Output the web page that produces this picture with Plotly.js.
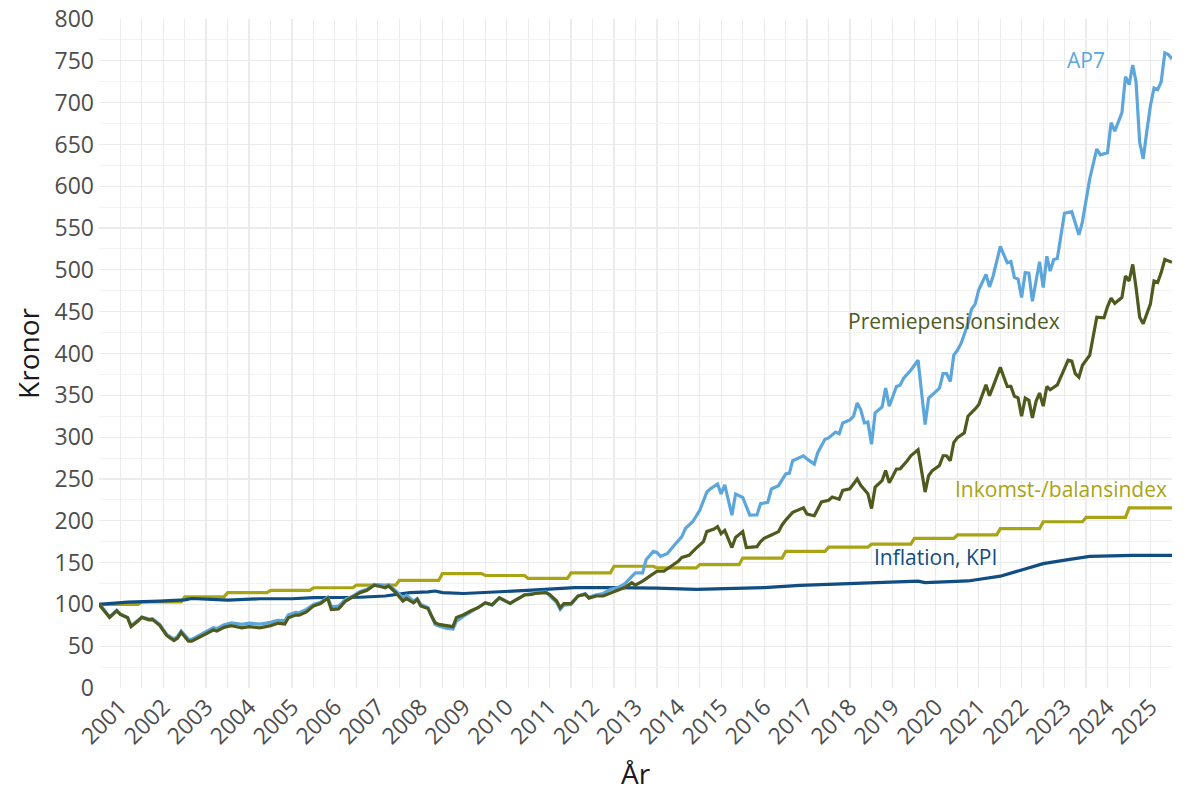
<!DOCTYPE html>
<html>
<head>
<meta charset="utf-8">
<script src="https://cdn.plot.ly/plotly-3.0.1.min.js"></script>
<style>
  html, body { margin: 0; padding: 0; background: #fff; }
  #chart { width: 1200px; height: 800px; }
</style>
</head>
<body>
<div id="chart"></div>
<script>
// months counted from January 2001 (0 = 2001-01)
const ap7Month = [0,1,3,5,6,8,9,11,12,14,15,17,18,19,21,22,23,24,25,26,28,30,32,33,35,37,39,40,42,45,48,50,52,53,55,56,58,60,62,64,65,67,69,71,73,75,77,79,80,81,83,85,86,88,89,90,92,93,94,95,97,99,100,102,104,106,108,110,112,114,115,116,119,121,122,125,126,128,129,130,132,134,136,137,139,141,143,145,147,149,150,152,153,155,156,157,159,161,163,164,166,168,170,171,173,174,175,176,177,178,180,182,184,185,187,188,190,192,193,194,195,197,198,200,201,203,204,206,207,208,210,211,212,213,214,215,216,217,219,220,221,223,224,225,227,229,231,232,233,235,236,237,238,239,240,241,243,244,245,246,248,249,250,252,254,255,256,257,258,259,260,261,262,263,264,265,266,267,268,269,270,272,273,274,275,276,277,279,280,282,283,284,286,287,288,289,290,291,292,293,294,295,296,297,298,299,300];
const ap7Value = [100,96,85,93,88.5,84.5,74.5,81.5,85,82.5,83,76,70,64,58.5,62,68,63,58.5,58,63,67.5,72,71,75.5,78,77,76,77.5,76.5,78.5,81,80.5,87.5,90.5,90,94,100,102.5,108.5,97,98,106,110,115.5,118,124,123,121.5,123.5,116,108,111,104,107,100,96,85,76,74,71.5,70.5,80,86,91,95.5,101.5,99,107.5,103,101,104,111.5,113,114,115,111,102,94,99,100,110,113,108.5,111.5,113,118,120,124.5,133.7,137.6,137.6,153.4,163.3,162,157.4,161,171.2,181,191,198.8,212.6,234.3,238.2,244,232,243,224.5,206.7,232,228,206.7,207,220.5,222,238,242,256,257,271.8,273.7,277.7,274,267.8,281.7,297.4,299,306,304,317,320.6,325,340.8,333,317,318,291.5,329,336,358.6,337,360.5,362,370.4,380,392,315,346.7,350.6,358.6,376,376,366.5,398,404,412,435.5,453,459,476,494.7,479.6,492.7,528,508.5,510,490.7,489,467,496.7,496,462.4,486.7,509.7,479,516.3,498.6,512.4,513.6,540,567.7,569.6,555.9,542,557.8,581.4,609,644.6,637.5,640,676,666,688,731,721.5,745,725,652.5,632.8,666,695.9,717.5,715.6,725,759.5,757.6,752];

const ppMonth = [0,1,3,5,6,8,9,11,12,14,15,17,18,19,21,22,23,24,25,26,28,30,32,33,35,37,39,40,42,45,48,50,52,53,55,56,58,60,62,64,65,67,69,71,73,75,77,79,80,81,83,85,86,88,89,90,92,93,94,95,97,99,100,102,104,106,108,110,112,114,115,116,119,121,122,125,126,128,129,130,132,134,136,137,139,141,143,145,147,149,150,152,154,156,158,160,162,163,165,167,169,170,172,173,174,175,177,178,180,181,184,185,186,188,190,191,192,194,196,197,198,200,202,204,205,207,208,210,212,213,215,216,217,219,220,221,223,224,226,227,229,231,232,233,235,236,237,238,239,240,242,243,245,246,248,249,250,252,254,255,256,257,258,259,260,261,262,263,264,265,266,268,270,271,272,273,274,275,277,278,279,281,282,283,284,286,287,288,289,290,291,292,294,295,296,297,298,300];
const ppValue = [100,95,84.4,92.3,88,84,73.4,80.5,84.4,81.5,81.8,75,68.6,62.7,56.8,59.7,66.6,61,56,56,60.6,64.7,69.4,68,72.5,74.6,73.4,72,73.4,72,74.6,77.4,76.6,84,87.2,87,91,98.2,101,107.3,93.8,94.6,104,108.5,114,116.8,123,121,119.9,122,114,104,107,101.8,105.8,98,95,86,78,76,74.6,73.4,84.4,87.6,92.3,96,102,99.6,108,103.5,101.2,104,111.2,112,113,114,112,104,96,101,101,110,112,107.5,110,110,113,116.8,120,125.8,123,127.8,133.7,139.6,139.6,145.6,151.5,156.2,158.6,167.2,175,187,190,193,184.5,188.5,168,180,187,168,169,175,179,183,187,195,200.8,210,214,215.4,208,206,222.5,224.5,228.4,225.7,236.3,238.2,250,242.3,232.3,214.6,240.2,248,260,245.3,261.9,262,271.8,277.7,284.8,234.3,254,260,266,277.7,277.7,271.8,293.5,299.4,305.3,325,333.7,338.8,362.5,349.5,360.6,383.4,360.6,360.6,348.7,347,325,346.7,344,323,342.8,352.7,337,360.6,356.6,362.5,382,392,391,376,371.6,386,398,421.7,443.4,442.6,456,466.3,460,467,492.7,486.7,506.5,479,443.4,435.5,459,486.7,485,496.7,512.4,509];

const kpiMonth = [0,8,17,24,26,36,45,54,60,68,73,80,82,87,92,94,96,102,121,133,144,156,167,186,196,217,229,231,243,252,257,264,271,277,289,300];
const kpiValue = [100,102.7,104,105.3,107,105,106.7,106.7,108,108,108.5,110,111,114,115,116,114,113,117,120,120,119.5,118,120,122.7,125.8,127.8,126,128,133.7,139.6,148.7,153.5,157.4,158.6,158.6];

// income/balance index, one level per calendar year
const inkYears = [2001,2002,2003,2004,2005,2006,2007,2008,2009,2010,2011,2012,2013,2014,2015,2016,2017,2018,2019,2020,2021,2022,2023,2024,2025];
const inkValue = [100,103,109,114,116.8,119.9,123,128.6,136.7,134.5,131,137.7,145.6,143.6,147.5,155.4,163.3,168.4,172,179,183,190.5,198.8,204,215.4];

const yearLabels = ['2001','2002','2003','2004','2005','2006','2007','2008','2009','2010','2011','2012','2013','2014','2015','2016','2017','2018','2019','2020','2021','2022','2023','2024','2025'];

const colors = {
  ap7: '#5DA6DC',
  pp: '#4E5A1E',
  ink: '#A9A414',
  kpi: '#0F4D82'
};
const FONT = 'Open Sans, Noto Sans, sans-serif';

/**
 * Month offset to a date string
 * @param  {number} i months since January 2001
 * @return {string}   YYYY-MM-01
 */
function monthToDate(i){
  const y = 2001 + Math.floor(i / 12);
  const m = (i % 12) + 1;
  return y + '-' + String(m).padStart(2, '0') + '-01';
}

function lineTrace(months, values, color){
  return {
    x: months.map(monthToDate),
    y: values,
    type: 'scatter',
    mode: 'lines',
    line: {color: color, width: 3.2},
    hoverinfo: 'skip'
  };
}

// step line for the yearly index
const inkX = [];
const inkY = [];
inkYears.forEach(function(yr, k){
  const first = (yr - 2001) * 12;
  const last = k === inkYears.length - 1 ? kpiMonth[kpiMonth.length - 1] : first + 11;
  inkX.push(monthToDate(first), monthToDate(last));
  inkY.push(inkValue[k], inkValue[k]);
});

const data = [
  {x: inkX, y: inkY, type: 'scatter', mode: 'lines', line: {color: colors.ink, width: 3.2}, hoverinfo: 'skip'},
  lineTrace(kpiMonth, kpiValue, colors.kpi),
  lineTrace(ap7Month, ap7Value, colors.ap7),
  lineTrace(ppMonth, ppValue, colors.pp)
];

const tickDates = yearLabels.map(function(y){ return y + '-07-01'; });

function label(text, month, y, color){
  return {
    text: text, x: monthToDate(month), y: y,
    xref: 'x', yref: 'y', showarrow: false,
    xanchor: 'center', yanchor: 'middle',
    font: {family: FONT, size: 21, color: color}
  };
}

const layout = {
  width: 1200,
  height: 800,
  margin: {l: 99, r: 28, t: 19, b: 112},
  paper_bgcolor: '#fff',
  plot_bgcolor: '#fff',
  showlegend: false,
  font: {family: FONT, color: '#4D4D4D'},
  xaxis: {
    type: 'date',
    range: ['2001-01-01', '2026-01-01'],
    tickmode: 'array',
    tickvals: tickDates,
    ticktext: yearLabels,
    tickangle: -45,
    tickfont: {size: 23, color: '#4D4D4D'},
    showgrid: true,
    gridcolor: '#EBEBEB',
    gridwidth: 1.2,
    minor: {tickmode: 'linear', tick0: '2001-01-01', dtick: 'M12', showgrid: true, gridcolor: '#EBEBEB', gridwidth: 1.2},
    zeroline: false,
    showline: false,
    ticks: '',
    ticklabeloverflow: 'allow',
    fixedrange: true,
    title: {text: 'År', font: {size: 28, color: '#1A1A1A'}, standoff: 14}
  },
  yaxis: {
    range: [0, 800],
    tickmode: 'linear',
    tick0: 0,
    dtick: 50,
    tickfont: {size: 23, color: '#4D4D4D'},
    showgrid: true,
    gridcolor: '#EBEBEB',
    gridwidth: 1.2,
    minor: {dtick: 25, showgrid: true, gridcolor: '#F2F2F2', gridwidth: 1},
    zeroline: false,
    showline: false,
    ticks: '',
    ticklabelstandoff: 4,
    ticklabeloverflow: 'allow',
    fixedrange: true,
    title: {text: 'Kronor', font: {size: 28, color: '#1A1A1A'}, standoff: 6}
  },
  annotations: [
    label('AP7', 276, 751, colors.ap7),
    label('Premiepensionsindex', 239, 439, colors.pp),
    label('Inkomst-/balansindex', 269, 238, colors.ink),
    label('Inflation, KPI', 234, 157, colors.kpi)
  ]
};

Plotly.newPlot('chart', data, layout, {displayModeBar: false, staticPlot: true});
</script>
</body>
</html>
